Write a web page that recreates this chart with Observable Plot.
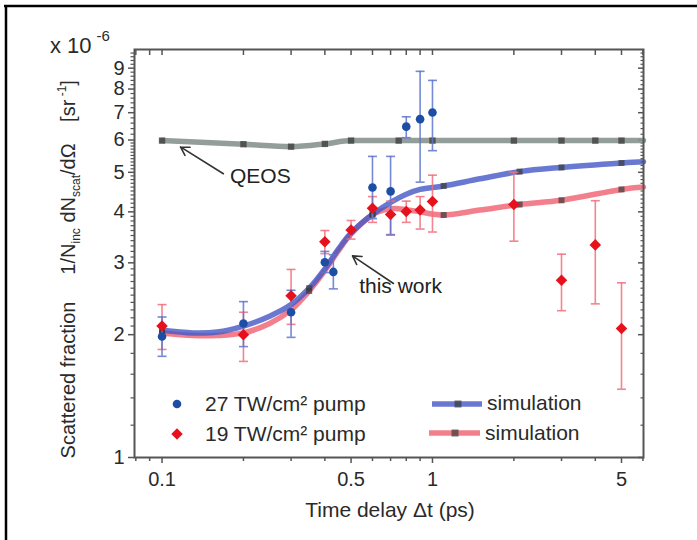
<!DOCTYPE html>
<html><head><meta charset="utf-8">
<script src="https://cdn.jsdelivr.net/npm/d3@7"></script>
<script src="https://cdn.jsdelivr.net/npm/@observablehq/plot@0.6"></script>
<style>body{margin:0;background:#fff}#chart{width:697px;height:540px}</style>
</head><body><div id="chart"></div><script>
// measured points, 27 TW/cm2 pump
const blueX  = [0.1, 0.2, 0.3, 0.4, 0.43, 0.6, 0.7, 0.8, 0.9, 1.0];
const blueY  = [1.98, 2.13, 2.27, 3.01, 2.85, 4.59, 4.49, 6.47, 6.75, 7.01];
const blueLo = [1.77, 1.87, 1.97, 2.84, 2.59, 3.85, 3.51, 6.08, 4.73, 5.65];
const blueHi = [2.21, 2.41, 2.57, 3.20, 3.14, 5.47, 5.47, 6.84, 8.84, 8.40];
// measured points, 19 TW/cm2 pump
const redX  = [0.1, 0.2, 0.3, 0.4, 0.5, 0.6, 0.7, 0.8, 0.9, 1.0, 2, 3, 4, 5];
const redY  = [2.10, 2.00, 2.49, 3.38, 3.61, 4.08, 3.94, 4.01, 4.04, 4.24, 4.17, 2.72, 3.32, 2.07];
const redLo = [1.84, 1.72, 2.12, 3.16, 3.43, 3.77, 3.52, 3.77, 3.63, 3.57, 3.39, 2.29, 2.38, 1.47];
const redHi = [2.37, 2.27, 2.89, 3.60, 3.81, 4.36, 4.25, 4.25, 4.36, 4.92, 5.00, 3.15, 4.26, 2.68];
// simulations
const simX     = [0.1, 0.13, 0.16, 0.2, 0.25, 0.3, 0.35, 0.4, 0.45, 0.5, 0.6, 0.7, 0.8, 0.9, 1.1, 1.5, 2.1, 3, 5, 6.03];
const simBlueY = [2.05, 2.02, 2.03, 2.10, 2.22, 2.37, 2.60, 2.90, 3.25, 3.55, 3.94, 4.22, 4.42, 4.54, 4.63, 4.82, 5.02, 5.14, 5.27, 5.31];
const simRedY  = [2.02, 1.99, 1.99, 2.02, 2.13, 2.30, 2.56, 2.87, 3.22, 3.53, 3.94, 4.07, 4.05, 4.00, 3.93, 4.04, 4.17, 4.27, 4.54, 4.60];
const simMarkX = [0.1, 0.35, 0.6, 1.1, 2.1, 3, 5];
// QEOS
const qeosX = [0.1, 0.2, 0.3, 0.4, 0.5, 0.75, 1, 2, 3, 4, 5, 6.03];
const qeosY = [5.98, 5.86, 5.78, 5.87, 5.98, 5.98, 5.98, 5.98, 5.98, 5.98, 5.98, 5.98];
const qeosMarkX = [0.1, 0.2, 0.3, 0.4, 0.5, 0.75, 1, 2, 3, 4, 5];
// annotations
const annoText = ["QEOS", "this work"];
const annoX = [0.231, 0.762];
const annoY = [4.90, 2.63];
const annoAnchor = ["middle", "start"];
const arrowX1 = [0.1686, 0.7174], arrowY1 = [4.96, 2.67];
const arrowX2 = [0.117, 0.506],   arrowY2 = [5.77, 3.12];
// ticks
const xLabelTicks = [0.1, 0.5, 1, 5];
const xMinorTicks = [0.08, 0.09, 0.2, 0.3, 0.4, 0.6, 0.7, 0.8, 0.9, 2, 3, 4, 6];
const yLabelTicks = [1, 2, 3, 4, 5, 6, 7, 8, 9];
const yMinorTicks = [1.2, 1.4, 1.6, 1.8,
  2.1,2.2,2.3,2.4,2.5,2.6,2.7,2.8,2.9, 3.1,3.2,3.3,3.4,3.5,3.6,3.7,3.8,3.9,
  4.1,4.2,4.3,4.4,4.5,4.6,4.7,4.8,4.9, 5.1,5.2,5.3,5.4,5.5,5.6,5.7,5.8,5.9,
  6.2,6.4,6.6,6.8, 7.2,7.4,7.6,7.8, 8.2,8.4,8.6,8.8, 9.2,9.4,9.6,9.8];

const blue = blueX.map((x,i)=>({x, y:blueY[i], lo:blueLo[i], hi:blueHi[i]}));
const red = redX.map((x,i)=>({x, y:redY[i], lo:redLo[i], hi:redHi[i]}));
const simBlue = simX.map((x,i)=>({x, y:simBlueY[i]}));
const simRed = simX.map((x,i)=>({x, y:simRedY[i]}));
const qeos = qeosX.map((x,i)=>({x, y:qeosY[i]}));
const anno = annoText.map((t,i)=>({t, x:annoX[i], y:annoY[i], a:annoAnchor[i]}));
const arrows = arrowX1.map((x1,i)=>({x1, y1:arrowY1[i], x2:arrowX2[i], y2:arrowY2[i]}));

const cap = {draw(ctx, size){const w = Math.sqrt(size/Math.PI); ctx.moveTo(-w,0); ctx.lineTo(w,0);}};

const C = {blueDot:"#1d4ea6", blueErr:"#5d74cc", redDot:"#e5121e", redErr:"#f26e7c",
  blueSim:"#4358c6", redSim:"#f3717f", qeos:"#879490", sq:"#3a3a3a", axis:"#555", text:"#2a2a2a"};

const errMarks = (data, color) => [
  Plot.ruleX(data, {x:"x", y1:"lo", y2:"hi", stroke:color, strokeWidth:1.6, strokeOpacity:0.85}),
  Plot.dot(data, {x:"x", y:"lo", symbol:cap, r:4.5, stroke:color, fill:"none", strokeWidth:1.6, strokeOpacity:0.85}),
  Plot.dot(data, {x:"x", y:"hi", symbol:cap, r:4.5, stroke:color, fill:"none", strokeWidth:1.6, strokeOpacity:0.85})
];

const plot = Plot.plot({
  width: 697, height: 540,
  marginLeft: 134, marginRight: 54, marginTop: 49, marginBottom: 83,
  x: {type:"log", domain:[0.0791, 6.03]},
  y: {type:"log", domain:[1, 10]},
  style: {fontFamily:"'Liberation Sans', Arial, sans-serif", fontSize:"20px", color:C.text, background:"#fff"},
  marks: [
    // axes
    Plot.axisX({anchor:"bottom", ticks:xLabelTicks, tickFormat:d=>String(d), tickSize:6, tickPadding:8, label:null, stroke:C.axis, strokeWidth:1.5, fill:C.text}),
    Plot.axisX({anchor:"bottom", ticks:xMinorTicks, tickFormat:()=> "", tickSize:4, label:null, stroke:C.axis, strokeWidth:1.5}),
    Plot.axisX({anchor:"top", ticks:xLabelTicks.concat(xMinorTicks), tickFormat:()=> "", tickSize:-5, label:null, stroke:C.axis, strokeWidth:1.5}),
    Plot.axisY({anchor:"left", ticks:yLabelTicks, tickFormat:d=>String(d), tickSize:6, tickPadding:4, label:null, stroke:C.axis, strokeWidth:1.5, fill:C.text}),
    Plot.axisY({anchor:"left", ticks:yMinorTicks, tickFormat:()=> "", tickSize:3.5, label:null, stroke:C.axis, strokeWidth:1.2}),
    Plot.axisY({anchor:"right", ticks:yLabelTicks, tickFormat:()=> "", tickSize:-6, label:null, stroke:C.axis, strokeWidth:1.5}),
    Plot.axisY({anchor:"right", ticks:yMinorTicks, tickFormat:()=> "", tickSize:-3.5, label:null, stroke:C.axis, strokeWidth:1.2}),
    // simulation curves
    Plot.line(qeos, {x:"x", y:"y", stroke:C.qeos, strokeWidth:5.5, curve:"monotone-x", strokeOpacity:0.9}),
    Plot.line(simRed, {x:"x", y:"y", stroke:C.redSim, strokeWidth:5.5, curve:"catmull-rom", strokeOpacity:0.9}),
    Plot.line(simBlue, {x:"x", y:"y", stroke:C.blueSim, strokeWidth:5.5, curve:"catmull-rom", strokeOpacity:0.8}),
    Plot.dot(qeos.filter(d=>qeosMarkX.includes(d.x)), {x:"x", y:"y", symbol:"square", r:3.6, fill:C.sq, fillOpacity:0.75}),
    Plot.dot(simRed.filter(d=>simMarkX.includes(d.x)), {x:"x", y:"y", symbol:"square", r:3.4, fill:C.sq, fillOpacity:0.7}),
    Plot.dot(simBlue.filter(d=>simMarkX.includes(d.x)), {x:"x", y:"y", symbol:"square", r:3.4, fill:C.sq, fillOpacity:0.7}),
    // error bars and points
    ...errMarks(red, C.redErr),
    ...errMarks(blue, C.blueErr),
    Plot.dot(red, {x:"x", y:"y", symbol:"diamond2", r:5.2, fill:C.redDot}),
    Plot.dot(blue, {x:"x", y:"y", symbol:"circle", r:4.3, fill:C.blueDot}),
    // annotations
    Plot.arrow(arrows, {x1:"x1", y1:"y1", x2:"x2", y2:"y2", stroke:"#333", strokeWidth:1.6, headLength:9, bend:0}),
    Plot.text(anno, {x:"x", y:"y", text:"t", textAnchor:d=>d.a, fontSize:21, fill:"#222"}),
    Plot.frame({stroke:C.axis, strokeWidth:2})
  ]
});

document.getElementById("chart").appendChild(plot);
const svg = d3.select(plot);

// outer figure border (top & left)
svg.append("line").attr("x1",4).attr("x2",697).attr("y1",6).attr("y2",6).attr("stroke","#000").attr("stroke-width",2.5);
svg.append("line").attr("x1",6).attr("x2",6).attr("y1",5).attr("y2",540).attr("stroke","#000").attr("stroke-width",2.5);

const font = "'Liberation Sans', Arial, sans-serif";
// x axis label
svg.append("text").attr("x",390).attr("y",517).attr("text-anchor","middle")
  .attr("font-family",font).attr("font-size",21).attr("fill",C.text).text("Time delay \u0394t (ps)");

// exponent
const ex = svg.append("text").attr("x",50).attr("y",53).attr("text-anchor","start").attr("font-family",font).attr("font-size",22).attr("fill",C.text);
ex.append("tspan").text("x 10");
ex.append("tspan").attr("dx",5).attr("dy",-12).attr("font-size",15).text("-6");

// y axis label (three parts, rotated)
function yPart(cy, build){
  const t = svg.append("text").attr("transform",`translate(75,${cy}) rotate(-90)`)
    .attr("text-anchor","middle").attr("font-family",font).attr("font-size",20).attr("fill",C.text);
  build(t);
}
yPart(380, t=>t.text("Scattered fraction"));
yPart(209, t=>{
  t.append("tspan").text("1/N");
  t.append("tspan").attr("font-size",12).attr("dy",5).text("inc");
  t.append("tspan").attr("dy",-5).text(" dN");
  t.append("tspan").attr("font-size",12).attr("dy",5).text("scat");
  t.append("tspan").attr("dy",-5).text("/d\u03A9");
});
yPart(101, t=>{
  t.append("tspan").text("[sr");
  t.append("tspan").attr("font-size",12).attr("dy",-9).text(" -1");
  t.append("tspan").attr("dy",9).text("]");
});

// legend
const lg = svg.append("g").attr("font-family",font).attr("font-size",21).attr("fill",C.text).attr("text-anchor","start");
lg.append("circle").attr("cx",177).attr("cy",404).attr("r",4.3).attr("fill",C.blueDot);
lg.append("path").attr("d",d3.symbol(d3.symbolDiamond2, 5.2*5.2*Math.PI)()).attr("transform","translate(177,434)").attr("fill",C.redDot);
lg.append("text").attr("x",205).attr("y",411).text("27 TW/cm\u00B2 pump");
lg.append("text").attr("x",205).attr("y",441).text("19 TW/cm\u00B2 pump");
lg.append("line").attr("x1",432).attr("x2",482).attr("y1",404).attr("y2",404).attr("stroke",C.blueSim).attr("stroke-width",5.5).attr("stroke-opacity",0.8);
lg.append("rect").attr("x",454.5).attr("y",400.5).attr("width",7).attr("height",7).attr("fill",C.sq).attr("fill-opacity",0.7);
lg.append("text").attr("x",487).attr("y",410).text("simulation");
lg.append("line").attr("x1",429).attr("x2",480).attr("y1",433).attr("y2",433).attr("stroke",C.redSim).attr("stroke-width",5.5).attr("stroke-opacity",0.9);
lg.append("rect").attr("x",451.5).attr("y",429.5).attr("width",7).attr("height",7).attr("fill",C.sq).attr("fill-opacity",0.7);
lg.append("text").attr("x",485).attr("y",440).text("simulation");
</script></body></html>
